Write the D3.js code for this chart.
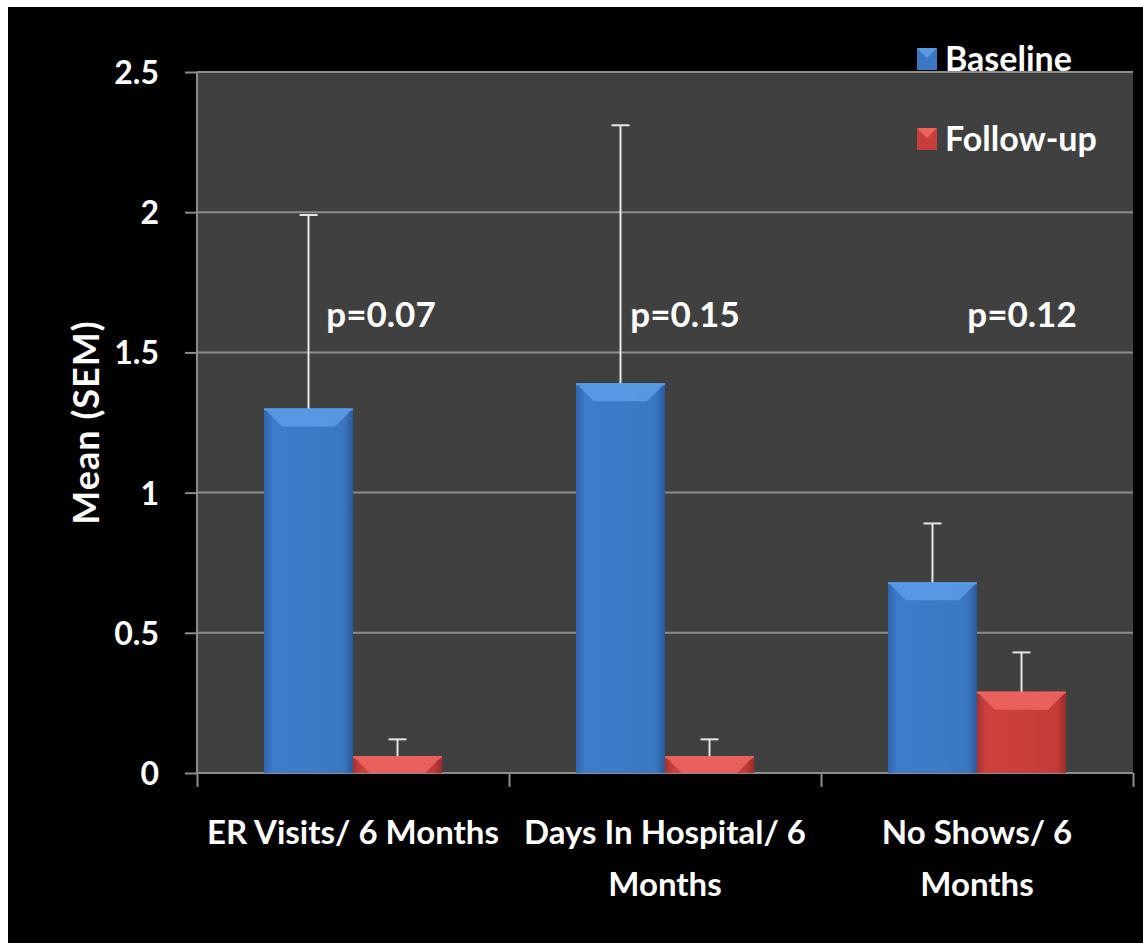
<!DOCTYPE html>
<html><head><meta charset="utf-8">
<script src="https://cdn.jsdelivr.net/npm/d3@7"></script>
<style>html,body{margin:0;padding:0;background:#fff;}svg{display:block;}</style>
</head><body>
<script>
const categories = [["ER Visits/ 6 Months"], ["Days In Hospital/ 6", "Months"], ["No Shows/ 6", "Months"]];
const seriesNames = ["Baseline", "Follow-up"];
const baseline = [1.30, 1.39, 0.68];
const baselineErr = [0.69, 0.92, 0.21];
const followup = [0.06, 0.06, 0.29];
const followupErr = [0.06, 0.06, 0.14];
const pValues = ["p=0.07", "p=0.15", "p=0.12"];
const yTicks = [0, 0.5, 1, 1.5, 2, 2.5];

const W = 1143, H = 943;
const svg = d3.select("body").append("svg").attr("width", W).attr("height", H);
svg.append("rect").attr("width", W).attr("height", H).attr("fill", "#ffffff");
svg.append("rect").attr("x", 8).attr("y", 7).attr("width", W - 8).attr("height", H - 7).attr("fill", "#000");

const plot = {l: 197, r: 1133, t: 72, b: 773};
const x0 = d3.scaleBand().domain(d3.range(categories.length)).range([plot.l, plot.r]).paddingInner(0).paddingOuter(0);
const x1 = d3.scaleBand().domain([0, 1]).range([0, x0.bandwidth()]).paddingInner(0).paddingOuter(0.753);
const y = d3.scaleLinear().domain([0, 2.5]).range([plot.b, plot.t]);

const defs = svg.append("defs");
function grad(id, stops) {
  const g = defs.append("linearGradient").attr("id", id).attr("x1", 0).attr("x2", 1).attr("y1", 0).attr("y2", 0);
  stops.forEach(s => g.append("stop").attr("offset", s[0]).attr("stop-color", s[1]));
}
grad("gBlue", [[0, "#2f65ad"], [0.1, "#3d7cc9"], [0.5, "#3c7bc8"], [0.9, "#3a76c0"], [1, "#2a5a9c"]]);
grad("gRed", [[0, "#a83230"], [0.1, "#cc403d"], [0.5, "#c93f3c"], [0.9, "#c23c3a"], [1, "#9a2d2b"]]);
const colors = {0: {fill: "url(#gBlue)", top: "#5b9ae6", base: "#3a78c4"}, 1: {fill: "url(#gRed)", top: "#ec6461", base: "#c83e3b"}};

svg.append("rect").attr("x", plot.l).attr("y", plot.t).attr("width", plot.r - plot.l).attr("height", plot.b - plot.t).attr("fill", "#404040");

svg.append("g").selectAll("line").data(yTicks.filter(d => d > 0)).join("line")
  .attr("x1", plot.l).attr("x2", plot.r).attr("y1", d => y(d)).attr("y2", d => y(d))
  .attr("stroke", "#8c8c8c").attr("stroke-width", 2);

const yAxis = svg.append("g").attr("transform", `translate(${plot.l},0)`)
  .call(d3.axisLeft(y).tickValues(yTicks).tickFormat(d => d3.format("")(d)).tickSize(12).tickPadding(26));
yAxis.select(".domain").attr("stroke", "#8c8c8c").attr("stroke-width", 2).attr("d", `M0,${plot.t}V${plot.b}`);
yAxis.selectAll(".tick line").attr("stroke", "#8c8c8c").attr("stroke-width", 2);
yAxis.selectAll(".tick text").attr("fill", "#fff").attr("font-family", "Lato").attr("font-weight", "bold").attr("font-size", 32).attr("dy", "0.36em");

const xAxis = svg.append("g").attr("transform", `translate(0,${plot.b})`)
  .call(d3.axisBottom(d3.scaleLinear().domain([0, 3]).range([plot.l, plot.r])).tickValues([0, 1, 2, 3]).tickSize(14).tickFormat(""));
xAxis.select(".domain").attr("stroke", "#8c8c8c").attr("stroke-width", 2).attr("d", `M${plot.l},0H${plot.r}`);
xAxis.selectAll(".tick line").attr("stroke", "#8c8c8c").attr("stroke-width", 2);

const catG = svg.append("g");
categories.forEach((lines, i) => {
  const cx = x0(i) + x0.bandwidth() / 2;
  const t = catG.append("text").attr("x", cx).attr("y", 844)
    .attr("text-anchor", "middle").attr("fill", "#fff").attr("font-family", "Lato").attr("font-weight", "bold").attr("font-size", 33);
  lines.forEach((ln, k) => t.append("tspan").attr("x", cx).attr("dy", k === 0 ? 0 : 52).text(ln));
});

const data = [];
categories.forEach((c, i) => {
  data.push({i, s: 0, v: baseline[i], e: baselineErr[i]});
  data.push({i, s: 1, v: followup[i], e: followupErr[i]});
});
const barG = svg.append("g");
data.forEach(d => {
  const bx = x0(d.i) + x1(d.s), bw = x1.bandwidth();
  const by = y(d.v), bh = y(0) - y(d.v);
  barG.append("rect").attr("x", bx).attr("y", by).attr("width", bw).attr("height", bh).attr("fill", colors[d.s].fill);
  const bev = Math.min(18, bh);
  barG.append("polygon")
    .attr("points", [[bx, by], [bx + bw, by], [bx + bw - bev, by + bev], [bx + bev, by + bev]].map(p => p.join(",")).join(" "))
    .attr("fill", colors[d.s].top).attr("opacity", 0.9);
  barG.append("rect").attr("x", bx).attr("y", by).attr("width", bw).attr("height", 2).attr("fill", colors[d.s].top);
  const cx = bx + bw / 2;
  barG.append("line").attr("x1", cx).attr("x2", cx).attr("y1", by).attr("y2", y(d.v + d.e)).attr("stroke", "#e6e6e6").attr("stroke-width", 2);
  barG.append("line").attr("x1", cx - 9).attr("x2", cx + 9).attr("y1", y(d.v + d.e)).attr("y2", y(d.v + d.e)).attr("stroke", "#e6e6e6").attr("stroke-width", 2);
});

const pOffsets = [28, 20, 45];
svg.append("g").selectAll("text").data(pValues).join("text")
  .attr("x", (d, i) => x0(i) + x0.bandwidth() / 2 + pOffsets[i])
  .attr("y", y(1.59))
  .attr("text-anchor", "middle").attr("fill", "#fff").attr("font-family", "Lato").attr("font-weight", "bold").attr("font-size", 35)
  .text(d => d);

svg.append("text").attr("transform", `translate(99,${(plot.t + plot.b) / 2}) rotate(-90)`)
  .attr("text-anchor", "middle").attr("fill", "#fff").attr("font-family", "Lato").attr("font-weight", "bold").attr("font-size", 36)
  .attr("letter-spacing", 1)
  .text("Mean (SEM)");

const leg = svg.append("g");
seriesNames.forEach((n, k) => {
  const ly = 59 + k * 80;
  leg.append("rect").attr("x", 917).attr("y", ly - 11).attr("width", 20).attr("height", 22).attr("fill", colors[k].base);
  leg.append("polygon").attr("points", `917,${ly - 11} 937,${ly - 11} 927,${ly - 1}`).attr("fill", colors[k].top);
  leg.append("text").attr("x", 945).attr("y", ly).attr("dy", "0.36em").attr("fill", "#fff")
    .attr("font-family", "Lato").attr("font-weight", "bold").attr("font-size", 34).text(n);
});
</script>
</body></html>
